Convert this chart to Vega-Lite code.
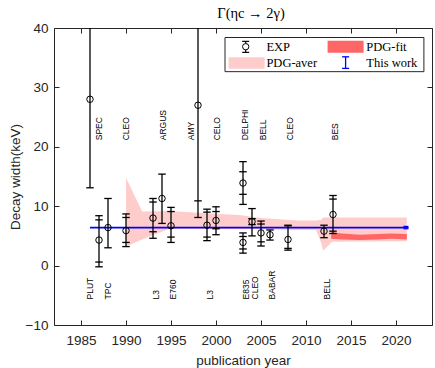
{
  "$schema": "https://vega.github.io/schema/vega-lite/v6.json",
  "width": 378,
  "height": 297,
  "autosize": "none",
  "padding": {"left": 54, "top": 28, "right": 3, "bottom": 43},
  "background": "white",
  "title": {"text": "Γ(ηc → 2γ)", "font": "Liberation Serif", "fontSize": 14.5, "fontWeight": "normal", "color": "black", "offset": 0, "frame": "group", "anchor": "middle", "dx": 8},
  "config": {
    "view": {"stroke": "#262626", "strokeWidth": 1},
    "axis": {
      "domain": false,
      "grid": false,
      "tickSize": -5,
      "tickColor": "#262626",
      "tickWidth": 1,
      "labelFont": "Liberation Sans",
      "labelFontSize": 13.5,
      "labelColor": "#262626",
      "titleFont": "Liberation Sans",
      "titleFontSize": 13.5,
      "titleFontWeight": "normal",
      "titleColor": "#262626"
    }
  },
  "datasets": {
    "exp": [
      {"name": "SPEC", "year": 1986, "v": 28.0, "lo": 13.1, "hi": 43, "slo": null, "shi": null},
      {"name": "PLUT", "year": 1987, "v": 4.3, "lo": -0.2, "hi": 8.4, "slo": 0.6, "shi": 7.7},
      {"name": "TPC", "year": 1988, "v": 6.4, "lo": 3.0, "hi": 11.3, "slo": null, "shi": null},
      {"name": "CLEO", "year": 1990, "v": 5.9, "lo": 3.2, "hi": 8.7, "slo": 3.9, "shi": 8.1},
      {"name": "L3", "year": 1993, "v": 8.0, "lo": 4.6, "hi": 11.3, "slo": 5.7, "shi": 10.7},
      {"name": "ARGUS", "year": 1994, "v": 11.3, "lo": 7.1, "hi": 15.4, "slo": null, "shi": null},
      {"name": "E760", "year": 1995, "v": 6.7, "lo": 3.9, "hi": 9.8, "slo": 4.8, "shi": 9.1},
      {"name": "AMY", "year": 1998, "v": 27.0, "lo": 8.1, "hi": 46, "slo": 10.9, "shi": null},
      {"name": "L3", "year": 1999, "v": 6.8, "lo": 4.2, "hi": 9.5, "slo": 4.8, "shi": 9.0},
      {"name": "CELO", "year": 2000, "v": 7.6, "lo": 5.2, "hi": 9.9, "slo": 6.2, "shi": 9.1},
      {"name": "DELPHI", "year": 2003, "v": 13.9, "lo": 10.3, "hi": 17.5, "slo": 12.0, "shi": 15.8},
      {"name": "E835", "year": 2003, "v": 3.9, "lo": 2.1, "hi": 5.5, "slo": 2.8, "shi": 4.9},
      {"name": "CLEO", "year": 2004, "v": 7.4, "lo": 5.0, "hi": 9.6, "slo": 6.9, "shi": 7.9},
      {"name": "BELL", "year": 2005, "v": 5.5, "lo": 3.3, "hi": 7.5, "slo": 4.0, "shi": 7.0},
      {"name": "BABAR", "year": 2006, "v": 5.2, "lo": 4.3, "hi": 6.0, "slo": null, "shi": null},
      {"name": "CLEO", "year": 2008, "v": 4.4, "lo": 2.6, "hi": 6.8, "slo": 2.9, "shi": 6.7},
      {"name": "BELL", "year": 2012, "v": 5.8, "lo": 4.7, "hi": 6.8, "slo": null, "shi": null},
      {"name": "BES", "year": 2013, "v": 8.6, "lo": 5.4, "hi": 11.8, "slo": 5.8, "shi": 11.2}
    ],
    "aver": [
      {"year": 1990.0, "lo": 3.2, "hi": 14.8},
      {"year": 1991.8, "lo": 4.4, "hi": 9.1},
      {"year": 1994.8, "lo": 6.2, "hi": 9.2},
      {"year": 1998.0, "lo": 6.2, "hi": 8.9},
      {"year": 2002.6, "lo": 6.1, "hi": 8.5},
      {"year": 2005.0, "lo": 6.1, "hi": 8.0},
      {"year": 2009.0, "lo": 6.0, "hi": 7.6},
      {"year": 2011.1, "lo": 6.0, "hi": 7.6},
      {"year": 2011.7, "lo": 3.8, "hi": 7.7},
      {"year": 2011.9, "lo": 2.5, "hi": 8.1},
      {"year": 2012.9, "lo": 4.0, "hi": 8.1},
      {"year": 2021.2, "lo": 4.1, "hi": 8.1}
    ],
    "fit": [
      {"year": 2012.8, "lo": 4.5, "hi": 5.6},
      {"year": 2014.0, "lo": 4.4, "hi": 5.4},
      {"year": 2016.0, "lo": 4.3, "hi": 5.2},
      {"year": 2018.0, "lo": 4.4, "hi": 5.3},
      {"year": 2019.5, "lo": 4.5, "hi": 5.4},
      {"year": 2021.2, "lo": 4.4, "hi": 5.3}
    ],
    "thiswork": [
      {"year": 1986.0, "v": 6.4},
      {"year": 2021.4, "v": 6.4}
    ],
    "twerr": [
      {"year": 2021.1, "v": 6.4, "lo": 6.2, "hi": 6.6}
    ],
    "tlab": [
      {"name": "SPEC", "year": 1987.0},
      {"name": "CLEO", "year": 1990.0},
      {"name": "ARGUS", "year": 1994.1},
      {"name": "AMY", "year": 1997.2},
      {"name": "CELO", "year": 2000.1},
      {"name": "DELPHI", "year": 2003.2},
      {"name": "BELL", "year": 2005.2},
      {"name": "CLEO", "year": 2008.2},
      {"name": "BES", "year": 2013.2}
    ],
    "blab": [
      {"name": "PLUT", "year": 1986.0},
      {"name": "TPC", "year": 1988.0},
      {"name": "L3", "year": 1993.3},
      {"name": "E760", "year": 1995.2},
      {"name": "L3", "year": 1999.3},
      {"name": "E835", "year": 2003.3},
      {"name": "CLEO", "year": 2004.3},
      {"name": "BABAR", "year": 2006.2},
      {"name": "BELL", "year": 2012.3}
    ]
  },
  "resolve": {"axis": {"x": "independent", "y": "independent"}},
  "layer": [
    {
      "data": {"name": "aver"},
      "mark": {"type": "area", "color": "#FFCCCC", "opacity": 1},
      "encoding": {
        "x": {"field": "year", "type": "quantitative", "scale": {"domain": [1982, 2024], "nice": false, "zero": false},
              "axis": {"values": [1985, 1990, 1995, 2000, 2005, 2010, 2015, 2020], "format": "d", "title": "publication year", "labelPadding": 13, "titlePadding": 7}},
        "y": {"field": "lo", "type": "quantitative", "scale": {"domain": [-10, 40], "nice": false, "zero": false},
              "axis": {"values": [-10, 0, 10, 20, 30, 40], "title": "Decay width(keV)", "labelPadding": 11, "titlePadding": 3}},
        "y2": {"field": "hi"}
      }
    },
    {
      "data": {"name": "fit"},
      "mark": {"type": "area", "color": "#FF6666", "opacity": 1},
      "encoding": {
        "x": {"field": "year", "type": "quantitative", "axis": null},
        "y": {"field": "lo", "type": "quantitative", "axis": null},
        "y2": {"field": "hi"}
      }
    },
    {
      "data": {"name": "thiswork"},
      "mark": {"type": "line", "color": "#0000FF", "strokeWidth": 1.6},
      "encoding": {
        "x": {"field": "year", "type": "quantitative", "axis": null},
        "y": {"field": "v", "type": "quantitative", "axis": null}
      }
    },
    {
      "data": {"name": "twerr"},
      "mark": {"type": "rule", "color": "#0000FF", "strokeWidth": 1.2},
      "encoding": {
        "x": {"field": "year", "type": "quantitative", "axis": null},
        "y": {"field": "lo", "type": "quantitative", "axis": null},
        "y2": {"field": "hi"}
      }
    },
    {
      "data": {"name": "twerr"},
      "transform": [{"fold": ["lo", "hi"], "as": ["k", "cv"]}],
      "mark": {"type": "point", "shape": "M-1,0L1,0", "size": 25, "filled": false, "stroke": "#0000FF", "strokeWidth": 1.2, "opacity": 1},
      "encoding": {
        "x": {"field": "year", "type": "quantitative", "axis": null},
        "y": {"field": "cv", "type": "quantitative", "axis": null}
      }
    },
    {
      "data": {"name": "exp"},
      "mark": {"type": "rule", "color": "black", "strokeWidth": 1.3, "clip": true},
      "encoding": {
        "x": {"field": "year", "type": "quantitative", "axis": null},
        "y": {"field": "lo", "type": "quantitative", "axis": null},
        "y2": {"field": "hi"}
      }
    },
    {
      "data": {"name": "exp"},
      "transform": [{"fold": ["lo", "hi", "slo", "shi"], "as": ["k", "cv"]}],
      "mark": {"type": "point", "shape": "M-1,0L1,0", "size": 56, "filled": false, "stroke": "black", "strokeWidth": 1.3, "opacity": 1, "clip": true},
      "encoding": {
        "x": {"field": "year", "type": "quantitative", "axis": null},
        "y": {"field": "cv", "type": "quantitative", "axis": null}
      }
    },
    {
      "data": {"name": "exp"},
      "mark": {"type": "point", "shape": "circle", "size": 42, "filled": false, "stroke": "black", "strokeWidth": 1, "opacity": 1},
      "encoding": {
        "x": {"field": "year", "type": "quantitative", "axis": null},
        "y": {"field": "v", "type": "quantitative", "axis": null}
      }
    },
    {
      "data": {"name": "tlab"},
      "mark": {"type": "text", "angle": 270, "align": "left", "baseline": "middle", "font": "Liberation Sans", "fontSize": 8.5, "color": "black"},
      "encoding": {
        "x": {"field": "year", "type": "quantitative", "axis": null},
        "y": {"datum": 21.1, "type": "quantitative", "axis": null},
        "text": {"field": "name"}
      }
    },
    {
      "data": {"name": "blab"},
      "mark": {"type": "text", "angle": 270, "align": "left", "baseline": "middle", "font": "Liberation Sans", "fontSize": 8.5, "color": "black"},
      "encoding": {
        "x": {"field": "year", "type": "quantitative", "axis": null},
        "y": {"datum": -5.7, "type": "quantitative", "axis": null},
        "text": {"field": "name"}
      }
    },
    {
      "data": {"values": [{}]},
      "mark": {"type": "rect", "fill": "white", "stroke": "#262626", "strokeWidth": 1},
      "encoding": {
        "x": {"datum": 2001.0, "type": "quantitative",
              "axis": {"orient": "top", "values": [1985, 1990, 1995, 2000, 2005, 2010, 2015, 2020], "labels": false, "title": null}},
        "x2": {"datum": 2023.1},
        "y": {"datum": 38.4, "type": "quantitative",
              "axis": {"orient": "right", "values": [-10, 0, 10, 20, 30, 40], "labels": false, "title": null}},
        "y2": {"datum": 32.65}
      }
    },
    {
      "data": {"values": [{}]},
      "mark": {"type": "rect", "fill": "#FF6666"},
      "encoding": {
        "x": {"datum": 2012.4, "type": "quantitative", "axis": null},
        "x2": {"datum": 2016.4},
        "y": {"datum": 37.86, "type": "quantitative", "axis": null},
        "y2": {"datum": 35.84}
      }
    },
    {
      "data": {"values": [{}]},
      "mark": {"type": "rect", "fill": "#FFCCCC"},
      "encoding": {
        "x": {"datum": 2001.4, "type": "quantitative", "axis": null},
        "x2": {"datum": 2005.4},
        "y": {"datum": 35.07, "type": "quantitative", "axis": null},
        "y2": {"datum": 33.15}
      }
    },
    {
      "data": {"values": [{}]},
      "mark": {"type": "rule", "color": "black", "strokeWidth": 1.2},
      "encoding": {
        "x": {"datum": 2003.3, "type": "quantitative", "axis": null},
        "y": {"datum": 37.75, "type": "quantitative", "axis": null},
        "y2": {"datum": 35.9}
      }
    },
    {
      "data": {"values": [{"cv": 37.75}, {"cv": 35.9}]},
      "mark": {"type": "point", "shape": "M-1,0L1,0", "size": 49, "filled": false, "stroke": "black", "strokeWidth": 1.2, "opacity": 1},
      "encoding": {
        "x": {"datum": 2003.3, "type": "quantitative", "axis": null},
        "y": {"field": "cv", "type": "quantitative", "axis": null}
      }
    },
    {
      "data": {"values": [{}]},
      "mark": {"type": "point", "shape": "circle", "size": 40, "fill": "white", "filled": true, "stroke": "black", "strokeWidth": 1, "opacity": 1},
      "encoding": {
        "x": {"datum": 2003.3, "type": "quantitative", "axis": null},
        "y": {"datum": 36.85, "type": "quantitative", "axis": null}
      }
    },
    {
      "data": {"values": [{}]},
      "mark": {"type": "rule", "color": "#0000FF", "strokeWidth": 1.3},
      "encoding": {
        "x": {"datum": 2014.4, "type": "quantitative", "axis": null},
        "y": {"datum": 35.15, "type": "quantitative", "axis": null},
        "y2": {"datum": 33.2}
      }
    },
    {
      "data": {"values": [{"cv": 35.15}, {"cv": 33.2}]},
      "mark": {"type": "point", "shape": "M-1,0L1,0", "size": 49, "filled": false, "stroke": "#0000FF", "strokeWidth": 1.3, "opacity": 1},
      "encoding": {
        "x": {"datum": 2014.4, "type": "quantitative", "axis": null},
        "y": {"field": "cv", "type": "quantitative", "axis": null}
      }
    },
    {
      "data": {"values": [{"label": "EXP", "lx": 2005.6, "ly": 36.85}, {"label": "PDG-fit", "lx": 2016.7, "ly": 36.85}, {"label": "PDG-aver", "lx": 2005.6, "ly": 34.1}, {"label": "This work", "lx": 2016.7, "ly": 34.1}]},
      "mark": {"type": "text", "align": "left", "baseline": "middle", "font": "Liberation Serif", "fontSize": 12.5, "color": "black"},
      "encoding": {
        "x": {"field": "lx", "type": "quantitative", "axis": null},
        "y": {"field": "ly", "type": "quantitative", "axis": null},
        "text": {"field": "label"}
      }
    }
  ]
}
